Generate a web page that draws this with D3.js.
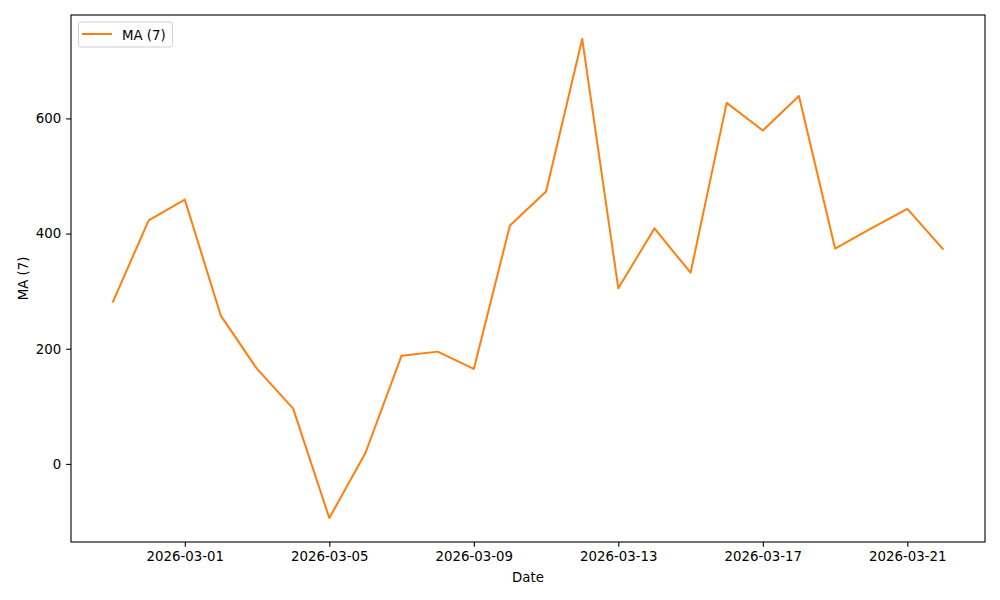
<!DOCTYPE html>
<html>
<head>
<meta charset="utf-8">
<script src="https://cdn.jsdelivr.net/npm/d3@7"></script>
<style>
body { margin: 0; background: #fff; }
svg text { font-family: "DejaVu Sans", sans-serif; }
</style>
</head>
<body>
<svg id="chart" width="1000" height="600"></svg>
<script>
const dates = ["2026-02-27","2026-02-28","2026-03-01","2026-03-02","2026-03-03","2026-03-04","2026-03-05","2026-03-06","2026-03-07","2026-03-08","2026-03-09","2026-03-10","2026-03-11","2026-03-12","2026-03-13","2026-03-14","2026-03-15","2026-03-16","2026-03-17","2026-03-18","2026-03-19","2026-03-20","2026-03-21","2026-03-22"];
const maValues = [280, 423, 459, 257, 165, 96, -94, 19, 188, 195, 165, 414, 473, 738, 305, 409, 332, 627, 579, 639, 374, 409, 443, 372];
const xTickLabels = ["2026-03-01","2026-03-05","2026-03-09","2026-03-13","2026-03-17","2026-03-21"];
const yTicks = [0, 200, 400, 600];
const seriesName = "MA (7)";

const parse = d3.utcParse("%Y-%m-%d");
const data = dates.map((d, i) => ({ date: parse(d), value: maValues[i] }));

const svg = d3.select("#chart");
const L = 71, R = 985, T = 15, B = 542;
const FS = "13.33px";

const xExt = d3.extent(data, d => d.date);
const xPad = (xExt[1] - xExt[0]) * 0.05;
const x = d3.scaleUtc()
  .domain([new Date(+xExt[0] - xPad), new Date(+xExt[1] + xPad)])
  .range([L, R]);

const yMin = d3.min(maValues), yMax = d3.max(maValues);
const yPad = (yMax - yMin) * 0.05;
const y = d3.scaleLinear().domain([yMin - yPad, yMax + yPad]).range([B, T]);

const fmt = d3.utcFormat("%Y-%m-%d");
const xAxis = d3.axisBottom(x)
  .tickValues(xTickLabels.map(parse))
  .tickFormat(fmt)
  .tickSizeInner(4.86).tickSizeOuter(0).tickPadding(4.86);
const yAxis = d3.axisLeft(y)
  .tickValues(yTicks)
  .tickSizeInner(4.86).tickSizeOuter(0).tickPadding(4.86);

const gx = svg.append("g").attr("transform", `translate(0,${B})`).call(xAxis);
const gy = svg.append("g").attr("transform", `translate(${L},0)`).call(yAxis);
[gx, gy].forEach(g => {
  g.select(".domain").remove();
  g.selectAll("line").attr("stroke", "#000").attr("stroke-width", 1.1);
  g.selectAll("text").attr("font-size", FS).attr("fill", "#000")
    .style("font-family", "'DejaVu Sans', sans-serif");
});

// line
const line = d3.line().x(d => x(d.date)).y(d => y(d.value));
svg.append("path").datum(data)
  .attr("fill", "none").attr("stroke", "#ff7f0e").attr("stroke-width", 2)
  .attr("stroke-linejoin", "round")
  .attr("d", line);

// frame
svg.append("rect").attr("x", L).attr("y", T).attr("width", R - L).attr("height", B - T)
  .attr("fill", "none").attr("stroke", "#000").attr("stroke-width", 1.1);

// axis labels
svg.append("text").attr("x", (L + R) / 2).attr("y", 582).attr("text-anchor", "middle")
  .attr("font-size", FS).text("Date");
svg.append("text").attr("transform", `translate(27.5,${(T + B) / 2}) rotate(-90)`)
  .attr("text-anchor", "middle").attr("font-size", FS).text(seriesName);

// legend
const lg = svg.append("g");
lg.append("rect").attr("x", 78.5).attr("y", 22).attr("width", 94).attr("height", 25)
  .attr("rx", 2.5).attr("fill", "#fff").attr("fill-opacity", 0.8)
  .attr("stroke", "#d0d0d0").attr("stroke-width", 1);
lg.append("line").attr("x1", 82).attr("x2", 112).attr("y1", 34).attr("y2", 34)
  .attr("stroke", "#ff7f0e").attr("stroke-width", 2);
lg.append("text").attr("x", 122).attr("y", 39.5).attr("font-size", FS).text(seriesName);
</script>
</body>
</html>
